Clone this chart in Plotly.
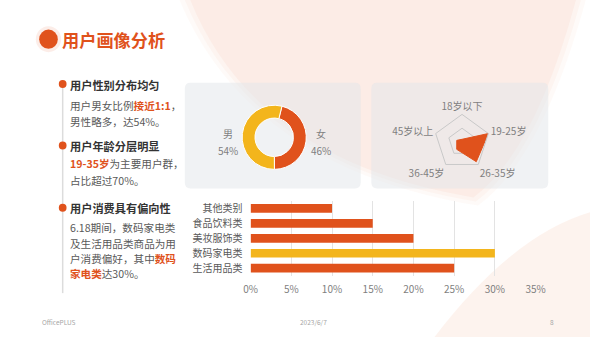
import plotly.graph_objects as go

# ---------------- data ----------------
gender_labels = ["女", "男"]
gender_values = [46, 54]

age_labels = ["18岁以下", "19-25岁", "26-35岁", "36-45岁", "45岁以上"]
age_values = [4, 40, 35, 13, 8]

cat_labels = ["生活用品类", "数码家电类", "美妆服饰类", "食品饮料类", "其他类别"]
cat_values = [25, 30, 20, 15, 10]
x_ticks = [0, 5, 10, 15, 20, 25, 30, 35]
x_tick_text = ["0%", "5%", "10%", "15%", "20%", "25%", "30%", "35%"]

ORANGE = "#E0521C"
YELLOW = "#F3B51C"
GRAY = "#7f7f7f"
BODY = "#595959"
FONT = "Noto Sans CJK SC"

W, H = 600, 337


def px(x):
    return x / W


def py(y):
    return 1 - y / H


def P(x, y):
    return f"{px(x):.5f},{py(y):.5f}"


def rrect(x0, y0, x1, y1, r):
    return (f"M {P(x0+r,y0)} L {P(x1-r,y0)} Q {P(x1,y0)} {P(x1,y0+r)} "
            f"L {P(x1,y1-r)} Q {P(x1,y1)} {P(x1-r,y1)} L {P(x0+r,y1)} "
            f"Q {P(x0,y1)} {P(x0,y1-r)} L {P(x0,y0+r)} Q {P(x0,y0)} {P(x0+r,y0)} Z")


fig = go.Figure()

# bar chart
bar_colors = [YELLOW if v == max(cat_values) else ORANGE for v in cat_values]
fig.add_trace(go.Bar(
    x=cat_values, y=cat_labels, orientation="h",
    marker=dict(color=bar_colors, line=dict(width=0)),
    xaxis="x", yaxis="y", showlegend=False, hoverinfo="skip",
))

# donut
fig.add_trace(go.Pie(
    labels=gender_labels, values=gender_values, hole=0.6, sort=False,
    direction="clockwise", rotation=14,
    marker=dict(colors=[ORANGE, YELLOW], line=dict(color="white", width=1)),
    textinfo="none", showlegend=False, hoverinfo="skip",
    domain=dict(x=[px(275 - 33), px(275 + 33)], y=[py(136.7 + 33), py(136.7 - 33)]),
))

# radar
fig.add_trace(go.Scatterpolar(
    r=age_values + [age_values[0]], theta=age_labels + [age_labels[0]],
    fill="toself", fillcolor=ORANGE, line=dict(color=ORANGE, width=1),
    mode="lines", showlegend=False, hoverinfo="skip",
))

cx, cy, R = 468.3, 141.5, 28.5
fig.update_layout(
    width=W, height=H, autosize=False,
    margin=dict(l=0, r=0, t=0, b=0),
    paper_bgcolor="white", plot_bgcolor="rgba(0,0,0,0)",
    font=dict(family=FONT, color=GRAY, size=10),
    bargap=0.42,
    xaxis=dict(domain=[px(250.7), px(544)], range=[0, 35], tickvals=x_ticks,
               ticktext=x_tick_text, showgrid=True, gridcolor="#e3e3e3", gridwidth=1,
               zeroline=False, showline=False, tickfont=dict(size=10, color=GRAY),
               ticks="outside", ticklen=4, tickcolor="rgba(0,0,0,0)", fixedrange=True),
    yaxis=dict(domain=[py(275.5), py(200.5)], showgrid=False, zeroline=False,
               showline=False, tickfont=dict(size=10, color=BODY),
               ticks="outside", ticklen=5, tickcolor="rgba(0,0,0,0)", fixedrange=True),
    polar=dict(
        domain=dict(x=[px(cx - R), px(cx + R)], y=[py(cy + R), py(cy - R)]),
        bgcolor="rgba(0,0,0,0)", gridshape="linear",
        radialaxis=dict(range=[0, 40], autorange=False, tickvals=[20], showticklabels=False,
                        showline=False, ticks="", gridcolor="#c9c9c9", gridwidth=1),
        angularaxis=dict(rotation=90, direction="clockwise", showgrid=False,
                         linecolor="#c9c9c9", linewidth=1, ticks="",
                         tickfont=dict(size=10, color=GRAY)),
    ),
)

shapes = []
# background blobs (soft edges by layering)
for k, op in [(1.06, 0.18), (1.03, 0.25), (1.0, 0.4)]:
    def Q(x, y, k=k):
        ox, oy = 400, 60
        return P(ox + (x - ox) * k, oy + (y - oy) * k)
    blob = f"M {Q(185,-10)} Q {Q(250,160)} {Q(480,197)} Q {Q(545,150)} {Q(588,-10)} Z"
    shapes.append(dict(type="path", path=blob, xref="paper", yref="paper",
                       fillcolor="#fbe2d6", opacity=op, line=dict(width=0), layer="below"))
blob2 = f"M {P(440,337)} Q {P(520,235)} {P(600,212)} L {P(600,337)} Z"
shapes.append(dict(type="path", path=blob2, xref="paper", yref="paper",
                   fillcolor="#fbe4d9", opacity=0.45, line=dict(width=0), layer="below"))
# panels
for (x0, x1) in [(183, 364), (375, 557)]:
    shapes.append(dict(type="path", path=rrect(x0, 82, x1, 188, 6), xref="paper", yref="paper",
                       fillcolor="rgba(226,229,234,0.5)", line=dict(width=0), layer="below"))
# title dot
shapes.append(dict(type="circle", xref="paper", yref="paper",
                   x0=px(42.7 - 13), x1=px(42.7 + 13), y0=py(38.3 + 13), y1=py(38.3 - 13),
                   fillcolor="rgba(224,82,28,0.10)", line=dict(width=0), layer="below"))
shapes.append(dict(type="circle", xref="paper", yref="paper",
                   x0=px(42.7 - 9.6), x1=px(42.7 + 9.6), y0=py(38.3 + 9.6), y1=py(38.3 - 9.6),
                   fillcolor=ORANGE, line=dict(width=0), layer="above"))
# timeline
shapes.append(dict(type="line", xref="paper", yref="paper", x0=px(57.3), x1=px(57.3),
                   y0=py(80), y1=py(293), line=dict(color="#dcdcdc", width=1.5), layer="below"))
for yy in [83.3, 145, 207.3]:
    shapes.append(dict(type="circle", xref="paper", yref="paper",
                       x0=px(57.3 - 4), x1=px(57.3 + 4), y0=py(yy + 4), y1=py(yy - 4),
                       fillcolor=ORANGE, line=dict(width=0), layer="above"))

ann = []


def T(x, y, text, size, color, anchor="left", bold=False):
    if bold:
        text = f"<b>{text}</b>"
    ann.append(dict(x=px(x), y=py(y), xref="paper", yref="paper", text=text,
                    showarrow=False, xanchor=anchor, yanchor="middle",
                    font=dict(size=size, color=color, family=FONT), borderpad=0))


def hl(s):
    return f"<b><span style='color:{ORANGE}'>{s}</span></b>"


T(56, 38.3, "用户画像分析", 17.2, ORANGE, bold=True)
T(64, 84.5, "用户性别分布均匀", 11.2, "#333333", bold=True)
T(64, 104.5, "用户男女比例" + hl("接近1:1") + "，", 10.6, BODY)
T(64, 120.7, "男性略多，达54%。", 10.6, BODY)
T(64, 145.5, "用户年龄分层明显", 11.2, "#333333", bold=True)
T(64, 163, hl("19-35岁") + "为主要用户群，", 10.6, BODY)
T(64, 180, "占比超过70%。", 10.6, BODY)
T(64, 207.5, "用户消费具有偏向性", 11.2, "#333333", bold=True)
T(64, 227.5, "6.18期间，数码家电类", 10.6, BODY)
T(64, 243.3, "及生活用品类商品为用", 10.6, BODY)
T(64, 258.5, "户消费偏好，其中" + hl("数码"), 10.6, BODY)
T(64, 273.5, hl("家电类") + "达30%。", 10.6, BODY)

# donut labels
T(227, 133, "男", 10, GRAY, anchor="center")
T(227, 149.5, f"{gender_values[1]}%", 10, GRAY, anchor="center")
T(323, 133, "女", 10, GRAY, anchor="center")
T(323, 149.5, f"{gender_values[0]}%", 10, GRAY, anchor="center")

# footer
T(35, 321.5, "OfficePLUS", 6.5, "#a6a6a6")
T(315, 321.5, "2023/6/7", 6.5, "#a6a6a6", anchor="center")
T(561, 321.5, "8", 6.5, "#a6a6a6", anchor="center")

fig.update_layout(shapes=shapes, annotations=ann)
fig.write_html("out.html")
